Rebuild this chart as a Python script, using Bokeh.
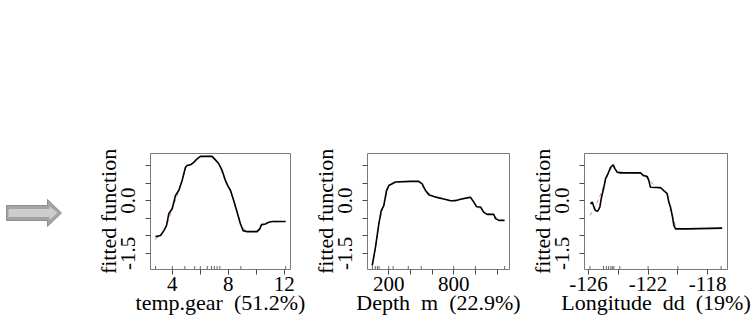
from bokeh.plotting import figure
from bokeh.layouts import row
from bokeh.models import Range1d, FixedTicker, PrintfTickFormatter
from bokeh.embed import file_html
from bokeh.resources import INLINE

# ---------------- data ----------------
# Panel 1: temp.gear (51.2%)
temp_x = [2.80, 3.16, 3.40, 3.59, 3.75, 3.99, 4.23, 4.46, 4.70, 4.94, 5.06, 5.35,
          5.53, 5.77, 6.01, 6.84, 7.08, 7.32, 7.56, 7.80, 7.96, 8.16, 8.39, 8.63,
          8.87, 9.06, 9.34, 10.06, 10.25, 10.37, 10.65, 10.89, 11.13, 12.10]
temp_y = [-1.02, -0.99, -0.85, -0.70, -0.37, -0.23, 0.15, 0.29, 0.57, 0.95, 1.00, 1.03,
          1.09, 1.19, 1.26, 1.26, 1.16, 1.05, 0.86, 0.57, 0.43, 0.29, 0.00, -0.33,
          -0.66, -0.85, -0.88, -0.88, -0.80, -0.68, -0.66, -0.61, -0.59, -0.59]
temp_smooth_x = [2.75, 3.2, 3.6, 4.0, 4.5, 5.0, 5.5, 6.0, 6.5, 6.9, 7.3, 7.7, 8.1,
                 8.5, 8.9, 9.3, 10.0, 10.4, 11.0, 12.1]
temp_smooth_y = [-1.10, -0.97, -0.70, -0.22, 0.32, 0.97, 1.06, 1.25, 1.27, 1.24, 1.05,
                 0.65, 0.31, -0.12, -0.70, -0.87, -0.87, -0.70, -0.61, -0.59]
temp_rug = [2.8, 4.0, 4.9, 5.6, 6.0, 6.5, 6.8, 7.0, 7.2, 7.4, 8.9, 12.1]

# Panel 2: Depth m (22.9%)
depth_x = [47, 77, 108, 130, 154, 179, 200, 231, 262, 400, 477, 508, 539, 569, 615,
           662, 708, 770, 816, 862, 924, 954, 985, 1010, 1047, 1077, 1109, 1170,
           1185, 1216, 1269]
depth_y = [-1.84, -1.32, -0.66, -0.28, -0.14, 0.29, 0.43, 0.48, 0.53, 0.55, 0.55, 0.48,
           0.29, 0.17, 0.12, 0.08, 0.05, 0.00, 0.00, 0.04, 0.08, 0.10, -0.04, -0.17,
           -0.18, -0.33, -0.39, -0.39, -0.51, -0.56, -0.56]
depth_smooth_x = [47, 80, 110, 150, 200, 260, 400, 480, 540, 620, 770, 860, 950,
                  1010, 1080, 1170, 1220, 1269]
depth_smooth_y = [-1.86, -1.30, -0.64, -0.14, 0.42, 0.53, 0.55, 0.54, 0.28, 0.11,
                  0.01, 0.04, 0.09, -0.14, -0.32, -0.42, -0.55, -0.56]
depth_rug = [50, 75, 95, 110, 200, 240, 380, 500, 800, 1000, 1270]

# Panel 3: Longitude dd (19%)
lon_x = [-125.87, -125.75, -125.64, -125.53, -125.38, -125.24, -125.15, -124.97,
         -124.86, -124.70, -124.52, -124.34, -124.23, -124.07, -123.85, -122.51,
         -122.33, -122.06, -121.95, -121.84, -121.17, -120.95, -120.72, -120.61,
         -120.50, -120.38, -120.27, -120.16, -119.38, -117.03]
lon_y = [-0.09, -0.04, -0.18, -0.28, -0.30, -0.18, 0.05, 0.38, 0.62, 0.76, 0.95, 1.02,
         0.91, 0.81, 0.79, 0.79, 0.72, 0.69, 0.57, 0.38, 0.37, 0.29, 0.20, -0.04,
         -0.18, -0.42, -0.70, -0.80, -0.80, -0.78]
lon_smooth_x = [-125.9, -125.6, -125.3, -125.0, -124.7, -124.4, -124.1, -123.5,
                -122.5, -122.0, -121.5, -121.0, -120.7, -120.4, -120.1, -119.5, -117.0]
lon_smooth_y = [-0.42, -0.20, 0.05, 0.40, 0.75, 0.98, 0.84, 0.79, 0.78, 0.62, 0.40,
                0.30, 0.12, -0.40, -0.78, -0.80, -0.78]
lon_rug = [-125.9, -125.0, -124.8, -124.65, -124.5, -124.4, -124.3, -123.9, -122.0,
           -120.0, -117.1]

# axis ticks / labels
y_major = [-1.5, 0.0]
y_minor = [-1.0, -0.5, 0.5, 1.0]
temp_major, temp_minor = [4, 8, 12], [6, 10]
depth_major, depth_minor = [200, 800], [400, 600, 1000, 1200]
lon_major, lon_minor = [-126, -122, -118], [-124, -120]
y_label = "fitted function"
temp_label = "temp.gear\u00a0\u00a0(51.2%)"
depth_label = "Depth\u00a0\u00a0m\u00a0\u00a0(22.9%)"
lon_label = "Longitude\u00a0\u00a0dd\u00a0\u00a0(19%)"

# decorative arrow outline (pixel units of its own small canvas)
arrow_outer_x = [6, 47, 47, 61, 47, 47, 6]
arrow_outer_y = [205, 205, 199, 212.5, 226, 220, 220]
arrow_inner_x = [8, 49, 49, 57, 49, 49, 8]
arrow_inner_y = [208.5, 208.5, 205.5, 212.5, 219.5, 216.5, 216.5]

# ---------------- styling ----------------
FONT = "Liberation Serif"
FS_TICK = "21px"
FS_LAB = "22px"
H = 325
TOP, BOTTOM = 153, 56
Y_LO, Y_HI = -1.955, 1.341
BOX = "#7a7a7a"
TICK = "#4a4a4a"


def panel(width, left, right, xr, xs, ys, sx, sy, rug, xmaj, xmin, xlabel):
    p = figure(width=width, height=H, x_range=Range1d(*xr), y_range=Range1d(Y_LO, Y_HI),
               output_backend="svg", toolbar_location=None,
               min_border_left=left, min_border_right=right,
               min_border_top=TOP, min_border_bottom=BOTTOM)
    p.grid.visible = False
    p.outline_line_color = BOX
    p.outline_line_width = 1
    p.background_fill_color = "white"
    p.border_fill_color = "white"

    p.line(sx, sy, line_color="#e88080", line_dash="4 3", line_width=1)
    p.line(xs, ys, line_color="black", line_width=1.6)
    rug_h = 0.03 * (Y_HI - Y_LO)
    p.segment(x0=rug, y0=[Y_LO] * len(rug), x1=rug, y1=[Y_LO + rug_h] * len(rug),
              line_color="#666666", line_width=1)

    xa = p.xaxis[0]
    xa.ticker = FixedTicker(ticks=xmaj, minor_ticks=xmin)
    xa.formatter = PrintfTickFormatter(format="%d")
    xa.axis_label = xlabel
    ya = p.yaxis[0]
    ya.ticker = FixedTicker(ticks=y_major, minor_ticks=y_minor)
    ya.formatter = PrintfTickFormatter(format="%.1f")
    ya.axis_label = y_label
    ya.major_label_orientation = "parallel"
    for ax in (xa, ya):
        ax.axis_line_color = None
        ax.major_tick_out = 5
        ax.major_tick_in = 0
        ax.minor_tick_out = 5
        ax.minor_tick_in = 0
        ax.major_tick_line_color = TICK
        ax.minor_tick_line_color = TICK
        ax.major_label_text_font = FONT
        ax.major_label_text_font_size = FS_TICK
        ax.major_label_text_color = "black"
        ax.axis_label_text_font = FONT
        ax.axis_label_text_font_size = FS_LAB
        ax.axis_label_text_font_style = "normal"
        ax.axis_label_text_color = "black"
    xa.major_label_standoff = 2
    xa.axis_label_standoff = -4
    ya.major_label_standoff = 10
    ya.axis_label_standoff = -2
    return p


# arrow canvas: its frame is given the same vertical extent as the panels' frames
fa = figure(width=92, height=H, x_range=Range1d(0, 92), y_range=Range1d(H - BOTTOM, TOP),
            output_backend="svg", toolbar_location=None,
            x_axis_type=None, y_axis_type=None,
            min_border_left=0, min_border_right=0,
            min_border_top=TOP, min_border_bottom=BOTTOM)
fa.grid.visible = False
fa.outline_line_color = None
fa.border_fill_color = "white"
fa.background_fill_color = "white"
fa.patch(arrow_outer_x, arrow_outer_y, fill_color="#a3a3a3", line_color="#8f8f8f", line_width=1)
fa.patch(arrow_inner_x, arrow_inner_y, fill_color="#cdcdcd", line_color=None)

p1 = panel(216, 58, 18, (2.443, 12.443), temp_x, temp_y, temp_smooth_x, temp_smooth_y,
           temp_rug, temp_major, temp_minor, temp_label)
p2 = panel(218, 59, 17, (3.3, 1314.5), depth_x, depth_y, depth_smooth_x, depth_smooth_y,
           depth_rug, depth_major, depth_minor, depth_label)
p3 = panel(230, 58, 29, (-126.27, -116.67), lon_x, lon_y, lon_smooth_x, lon_smooth_y,
           lon_rug, lon_major, lon_minor, lon_label)

layout = row(fa, p1, p2, p3)
open("out.html", "w").write(file_html(layout, INLINE))
